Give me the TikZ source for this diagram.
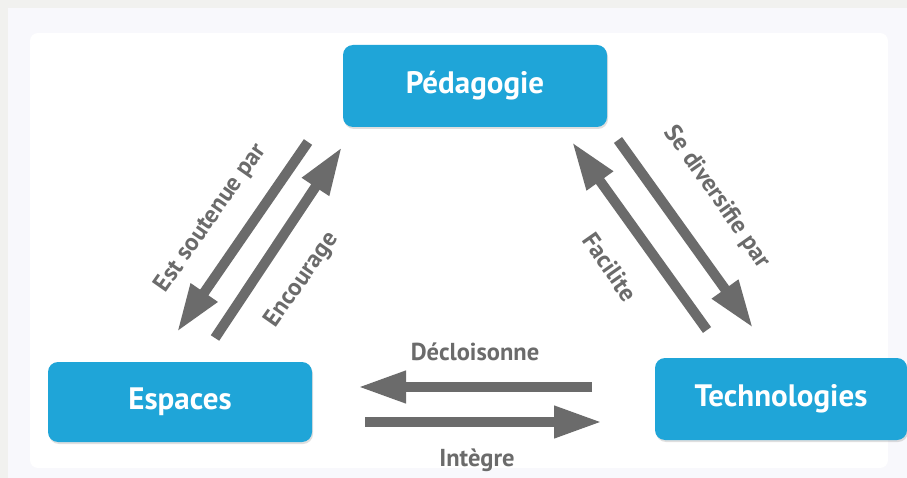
\documentclass[tikz,border=0pt]{standalone}
\usepackage{fontspec}
\setmainfont{PT Sans}
\usepackage{tikz}
\usetikzlibrary{arrows.meta,shadows}

\definecolor{boxblue}{HTML}{1FA5D8}
\definecolor{arrowgray}{HTML}{6B6B6B}
\definecolor{pagegray}{HTML}{F1F1EF}
\definecolor{panelgray}{HTML}{F8F8FC}

\tikzset{
    topic/.style={fill=boxblue, rounded corners=10pt, minimum width=264pt, minimum height=82pt,
        text=white, font=\fontsize{31}{34}\selectfont\bfseries,
        drop shadow={opacity=0.25, shadow xshift=1pt, shadow yshift=-2pt}},
    relarrow/.style={arrowgray, line width=10pt, -{Triangle[length=48pt, width=30pt]}},
    rellabel/.style={text=arrowgray, font=\fontsize{24.5}{27}\selectfont\bfseries, inner sep=0pt}
}

\begin{document}
\begin{tikzpicture}[x=1pt, y=-1pt]
    \useasboundingbox (0,0) rectangle (907,478);

    % Background
    \fill[pagegray] (0,0) rectangle (907,478);
    \fill[panelgray] (8,8) rectangle (907,478);
    \fill[white, rounded corners=8pt] (30,33) rectangle (888,468);

    % Topics
    \node[topic] (ped) at (475,86) {Pédagogie};
    \node[topic, minimum height=80pt] (esp) at (180,402) {Espaces};
    \node[topic, minimum width=252pt] (tech) at (781,399) {Technologies};

    % Arrow ends
    \coordinate (sout-a) at (308,142);
    \coordinate (sout-b) at (177,332);
    \coordinate (enc-a) at (215,338);
    \coordinate (enc-b) at (342,147);
    \coordinate (fac-a) at (707,330);
    \coordinate (fac-b) at (572,142);
    \coordinate (div-a) at (618,140);
    \coordinate (div-b) at (753,328);
    \coordinate (dec-a) at (592,387);
    \coordinate (dec-b) at (358,387);
    \coordinate (int-a) at (365,422);
    \coordinate (int-b) at (602,422);

    % Pedagogie - Espaces
    \draw[relarrow] (sout-a) -- (sout-b);
    \draw[relarrow] (enc-a) -- (enc-b);
    \node[rellabel, rotate=55] (sout) at (211,218) {Est soutenue par};
    \node[rellabel, rotate=55] (enc) at (302,280) {Encourage};

    % Pedagogie - Technologies
    \draw[relarrow] (fac-a) -- (fac-b);
    \draw[relarrow] (div-a) -- (div-b);
    \node[rellabel, rotate=-55] (fac) at (610,267) {Facilite};
    \node[rellabel, rotate=-55] (div) at (717,197) {Se diversifie par};

    % Espaces - Technologies
    \draw[relarrow] (dec-a) -- (dec-b);
    \draw[relarrow] (int-a) -- (int-b);
    \node[rellabel] (dec) at (475,352) {Décloisonne};
    \node[rellabel] (int) at (477,460) {Intègre};
\end{tikzpicture}
\end{document}
